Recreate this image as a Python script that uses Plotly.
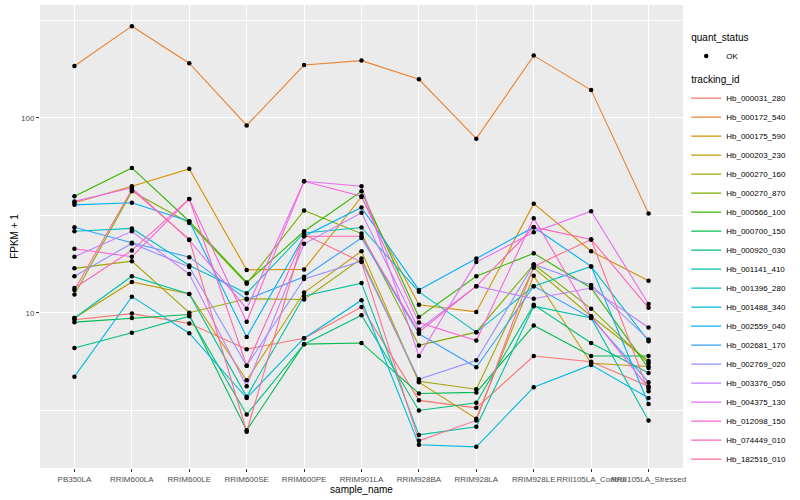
import plotly.graph_objects as go

samples = ["PB350LA", "RRIM600LA", "RRIM600LE", "RRIM600SE", "RRIM600PE",
           "RRIM901LA", "RRIM928BA", "RRIM928LA", "RRIM928LE",
           "RRII105LA_Control", "RRII105LA_Stressed"]

tracking_ids = ["Hb_000031_280", "Hb_000172_540", "Hb_000175_590", "Hb_000203_230",
                "Hb_000270_160", "Hb_000270_870", "Hb_000566_100", "Hb_000700_150",
                "Hb_000920_030", "Hb_001141_410", "Hb_001396_280", "Hb_001488_340",
                "Hb_002559_040", "Hb_002681_170", "Hb_002769_020", "Hb_003376_050",
                "Hb_004375_130", "Hb_012098_150", "Hb_074449_010", "Hb_182516_010"]

colors = ["#F8766D", "#EA8331", "#D89000", "#C09B00", "#A3A500", "#7CAE00", "#39B600",
          "#00BB4E", "#00BF7D", "#00C1A3", "#00BFC4", "#00BAE0", "#00B0F6", "#35A2FF",
          "#9590FF", "#C77CFF", "#E76BF3", "#FA62DB", "#FF62BC", "#FF6C91"]

# FPKM + 1 per sample, one list per tracking_id
hb_000031_280 = [9.2, 9.9, 8.8, 6.5, 7.4, 10.7, 3.55, 3.25, 6.0, 5.6, 4.2]
hb_000172_540 = [185, 296, 191, 91.6, 187, 197, 158, 78.3, 209, 139, 32.3]
hb_000175_590 = [36.7, 44.6, 54.8, 16.6, 16.7, 39.3, 11.0, 10.1, 36.3, 20.7, 14.6]
hb_000203_230 = [9.4, 14.4, 12.5, 4.5, 12.7, 20.7, 4.4, 2.86, 15.5, 5.5, 5.3]
hb_000270_160 = [16.9, 18.4, 10.0, 11.8, 11.7, 19.0, 4.45, 4.05, 17.0, 9.6, 5.65]
hb_000270_870 = [12.4, 42.0, 28.9, 14.1, 33.5, 25.5, 6.8, 7.95, 17.7, 10.5, 5.5]
hb_000566_100 = [39.6, 55.4, 29.5, 14.3, 26.2, 42.0, 9.5, 15.4, 20.2, 13.4, 5.2]
hb_000700_150 = [8.95, 9.4, 9.8, 2.49, 6.9, 7.0, 3.85, 3.9, 8.6, 6.0, 6.0]
hb_000920_030 = [6.6, 7.9, 9.6, 3.0, 6.9, 9.7, 3.15, 3.45, 11.0, 7.0, 4.9]
hb_001141_410 = [9.4, 15.4, 12.5, 3.7, 12.2, 14.2, 2.36, 2.6, 10.8, 9.4, 2.8]
hb_001396_280 = [26.2, 27.1, 17.5, 12.6, 25.7, 27.4, 12.8, 7.95, 13.7, 17.3, 7.15]
hb_001488_340 = [4.7, 12.1, 7.85, 3.65, 7.4, 11.6, 2.1, 2.05, 4.15, 5.4, 3.65]
hb_002559_040 = [35.8, 36.7, 29.5, 7.5, 24.7, 34.7, 13.1, 19.0, 27.5, 17.3, 3.4]
hb_002681_170 = [27.5, 22.9, 19.3, 11.7, 15.3, 24.2, 7.8, 5.25, 13.7, 9.4, 4.4]
hb_002769_020 = [15.4, 22.7, 17.2, 5.35, 14.9, 18.4, 4.55, 5.7, 17.7, 13.9, 7.3]
hb_003376_050 = [19.4, 26.2, 15.8, 4.2, 22.6, 32.6, 8.2, 13.7, 11.8, 13.4, 8.4]
hb_004375_130 = [37.3, 43.8, 23.6, 10.5, 47.3, 44.6, 6.0, 18.2, 25.9, 33.2, 11.1]
hb_012098_150 = [21.3, 19.4, 38.4, 9.0, 47.3, 39.6, 8.9, 7.2, 30.6, 9.6, 4.1]
hb_074449_010 = [13.4, 20.9, 38.4, 5.35, 24.7, 24.7, 7.95, 13.7, 27.5, 23.8, 10.6]
hb_182516_010 = [13.1, 42.9, 23.8, 2.45, 25.2, 18.2, 2.2, 2.8, 17.3, 23.8, 3.95]

series = [hb_000031_280, hb_000172_540, hb_000175_590, hb_000203_230, hb_000270_160,
          hb_000270_870, hb_000566_100, hb_000700_150, hb_000920_030, hb_001141_410,
          hb_001396_280, hb_001488_340, hb_002559_040, hb_002681_170, hb_002769_020,
          hb_003376_050, hb_004375_130, hb_012098_150, hb_074449_010, hb_182516_010]

FONT = "Liberation Sans, Arial, sans-serif"

fig = go.Figure()
for i, (tid, col, vals) in enumerate(zip(tracking_ids, colors, series)):
    fig.add_trace(go.Scatter(
        x=samples, y=vals, mode="lines", name=tid,
        line=dict(color=col, width=1.1),
        legendgroup="tid",
        legendgrouptitle=dict(text="tracking_id", font=dict(size=10, color="black")),
        legendrank=10 + i, hoverinfo="x+y+name"))

all_x = [s for vals in series for s in samples]
all_y = [v for vals in series for v in vals]
fig.add_trace(go.Scatter(
    x=all_x, y=all_y, mode="markers", name="OK",
    marker=dict(color="black", size=4.5, symbol="circle"),
    legendgroup="qs",
    legendgrouptitle=dict(text="quant_status", font=dict(size=10, color="black")),
    legendrank=1))

fig.update_layout(
    width=800, height=500,
    margin=dict(l=40, r=117, t=5, b=32, autoexpand=False),
    paper_bgcolor="white", plot_bgcolor="#EBEBEB",
    font=dict(family=FONT, size=8, color="#4D4D4D"),
    showlegend=True,
    legend=dict(x=1.005, y=0.962, xanchor="left", yanchor="top",
                traceorder="grouped", tracegroupgap=4,
                font=dict(size=8, color="black"), itemwidth=30,
                bgcolor="rgba(0,0,0,0)"),
    xaxis=dict(type="category", range=[-0.6, 10.6], tickangle=0, automargin=False,
               showgrid=True, gridcolor="white", gridwidth=1.1,
               ticks="outside", ticklen=3, tickcolor="#333333", tickwidth=1,
               tickfont=dict(size=8, color="#4D4D4D"), zeroline=False,
               showline=False,
               title=dict(text="sample_name", font=dict(size=10, color="black"), standoff=2)),
    yaxis=dict(type="log", range=[0.203, 2.58], automargin=False,
               tickmode="array", tickvals=[10, 100], ticktext=["10", "100"],
               showgrid=True, gridcolor="white", gridwidth=1.1,
               minor=dict(tickmode="array", tickvals=[3.1623, 31.623, 316.23],
                          showgrid=True, gridcolor="white", gridwidth=0.5, ticks=""),
               ticks="outside", ticklen=3, tickcolor="#333333", tickwidth=1,
               tickfont=dict(size=8, color="#4D4D4D"), zeroline=False, showline=False,
               title=dict(text="FPKM + 1", font=dict(size=10, color="black"), standoff=0)),
)

fig.write_html("out.html", config={"displayModeBar": False},
               post_script="document.body.style.margin='0';")
